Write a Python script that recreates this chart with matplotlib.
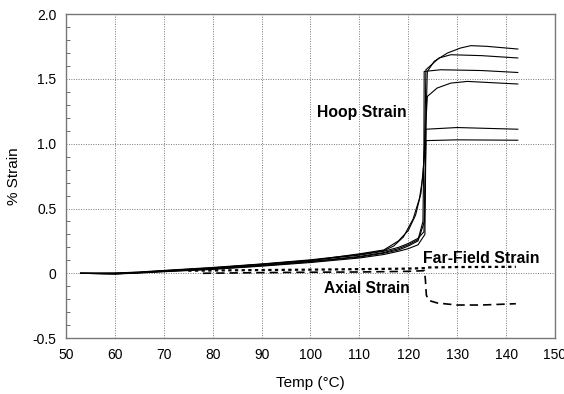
import matplotlib
matplotlib.use("Agg")
import matplotlib.pyplot as plt
from matplotlib.ticker import MultipleLocator

plt.rcParams['font.family'] = ['Liberation Sans', 'DejaVu Sans']

pre_T = [53, 60, 65, 70, 80, 90, 100, 110, 115]

hoopA_T = pre_T + [118, 120, 122, 123.2, 123.5, 123.7, 123.9, 125.3, 128, 130.7, 132.8, 136, 142.4]
hoopA_S = [0, 0.0, 0.008, 0.02, 0.042, 0.07, 0.10, 0.14, 0.17, 0.2, 0.23, 0.27, 0.32, 0.8, 1.3, 1.558, 1.636, 1.70, 1.739, 1.757, 1.752, 1.731]

hoopB_T = pre_T + [118, 120, 121.5, 122.6, 123.3, 123.5, 123.6, 126.3, 128.7, 135, 142.4]
hoopB_S = [0, -0.005, 0.005, 0.018, 0.04, 0.068, 0.098, 0.15, 0.18, 0.25, 0.33, 0.45, 0.62, 0.9, 1.3, 1.571, 1.662, 1.687, 1.68, 1.662]

hoopC_T = pre_T + [118, 120, 122, 123.0, 123.2, 123.25, 126.6, 135, 142.4]
hoopC_S = [0, 0.0, 0.006, 0.016, 0.036, 0.062, 0.092, 0.13, 0.16, 0.19, 0.22, 0.26, 0.4, 1.0, 1.558, 1.571, 1.565, 1.55]

hoopD_T = pre_T + [117, 119, 121, 122.3, 123.0, 123.5, 123.9, 125.9, 128.7, 132.1, 142.4]
hoopD_S = [0, 0.002, 0.01, 0.022, 0.045, 0.072, 0.104, 0.145, 0.175, 0.21, 0.28, 0.42, 0.58, 0.75, 1.1, 1.365, 1.43, 1.468, 1.481, 1.461]

hoopE_T = pre_T + [118, 120, 122, 123.3, 123.6, 130, 142.4]
hoopE_S = [0, -0.004, 0.004, 0.014, 0.033, 0.058, 0.088, 0.125, 0.155, 0.18, 0.21, 0.25, 0.4, 1.112, 1.125, 1.112]

hoopF_T = pre_T + [118, 120, 122, 123.4, 123.6, 130, 142.4]
hoopF_S = [0, -0.006, 0.002, 0.012, 0.03, 0.055, 0.083, 0.118, 0.145, 0.17, 0.19, 0.22, 0.3, 1.024, 1.03, 1.027]

farfield_T = [75, 90, 100, 110, 120, 123.5, 124, 130, 142]
farfield_S = [0.02, 0.025, 0.028, 0.032, 0.036, 0.04, 0.045, 0.048, 0.05]

axial_T = [78, 90, 100, 110, 120, 123.3, 123.5, 123.7, 124.2, 126, 130, 135, 142]
axial_S = [0.0, 0.005, 0.008, 0.01, 0.015, 0.02, -0.05, -0.17, -0.21, -0.23, -0.245, -0.245, -0.235]

xticks = [50, 60, 70, 80, 90, 100, 110, 120, 130, 140, 150]
yticks = [-0.5, 0, 0.5, 1.0, 1.5, 2.0]
ytick_labels = ["-0.5", "0", "0.5", "1.0", "1.5", "2.0"]

fig = plt.figure(figsize=(5.64, 3.94), dpi=100)
ax = fig.add_axes([0.117, 0.142, 0.867, 0.822])

for T, S in [(hoopA_T, hoopA_S), (hoopB_T, hoopB_S), (hoopC_T, hoopC_S),
             (hoopD_T, hoopD_S), (hoopE_T, hoopE_S), (hoopF_T, hoopF_S)]:
    ax.plot(T, S, color='black', lw=0.8)

ax.plot(farfield_T, farfield_S, color='black', lw=1.6, linestyle=(0, (1.5, 1.5)))
ax.plot(axial_T, axial_S, color='black', lw=1.2, linestyle=(0, (5, 3)))

ax.set_xlim(50, 150)
ax.set_ylim(-0.5, 2.0)
ax.set_xticks(xticks)
ax.set_xticklabels([str(x) for x in xticks])
ax.set_yticks(yticks)
ax.set_yticklabels(ytick_labels)
ax.yaxis.set_minor_locator(MultipleLocator(0.1))
ax.tick_params(axis='both', which='both', direction='in', labelsize=10, colors='#555555', labelcolor='black')
ax.tick_params(axis='y', which='minor', length=3)
ax.tick_params(axis='both', which='major', length=0, pad=7)
ax.grid(True, which='major', linestyle=(0, (1, 1.5)), color='#777777', lw=0.7)
for sp in ax.spines.values():
    sp.set_color('#777777')
    sp.set_linewidth(1.0)

ax.set_xlabel('Temp (°C)', fontsize=11, labelpad=10)
ax.set_ylabel('% Strain', fontsize=11, labelpad=8)

ax.text(110.5, 1.24, 'Hoop Strain', fontsize=11.3, fontweight='bold', ha='center', va='center')
ax.text(134.9, 0.116, 'Far-Field Strain', fontsize=11.4, fontweight='bold', ha='center', va='center')
ax.text(111.6, -0.12, 'Axial Strain', fontsize=11.2, fontweight='bold', ha='center', va='center')

fig.savefig('out.png', dpi=100)
